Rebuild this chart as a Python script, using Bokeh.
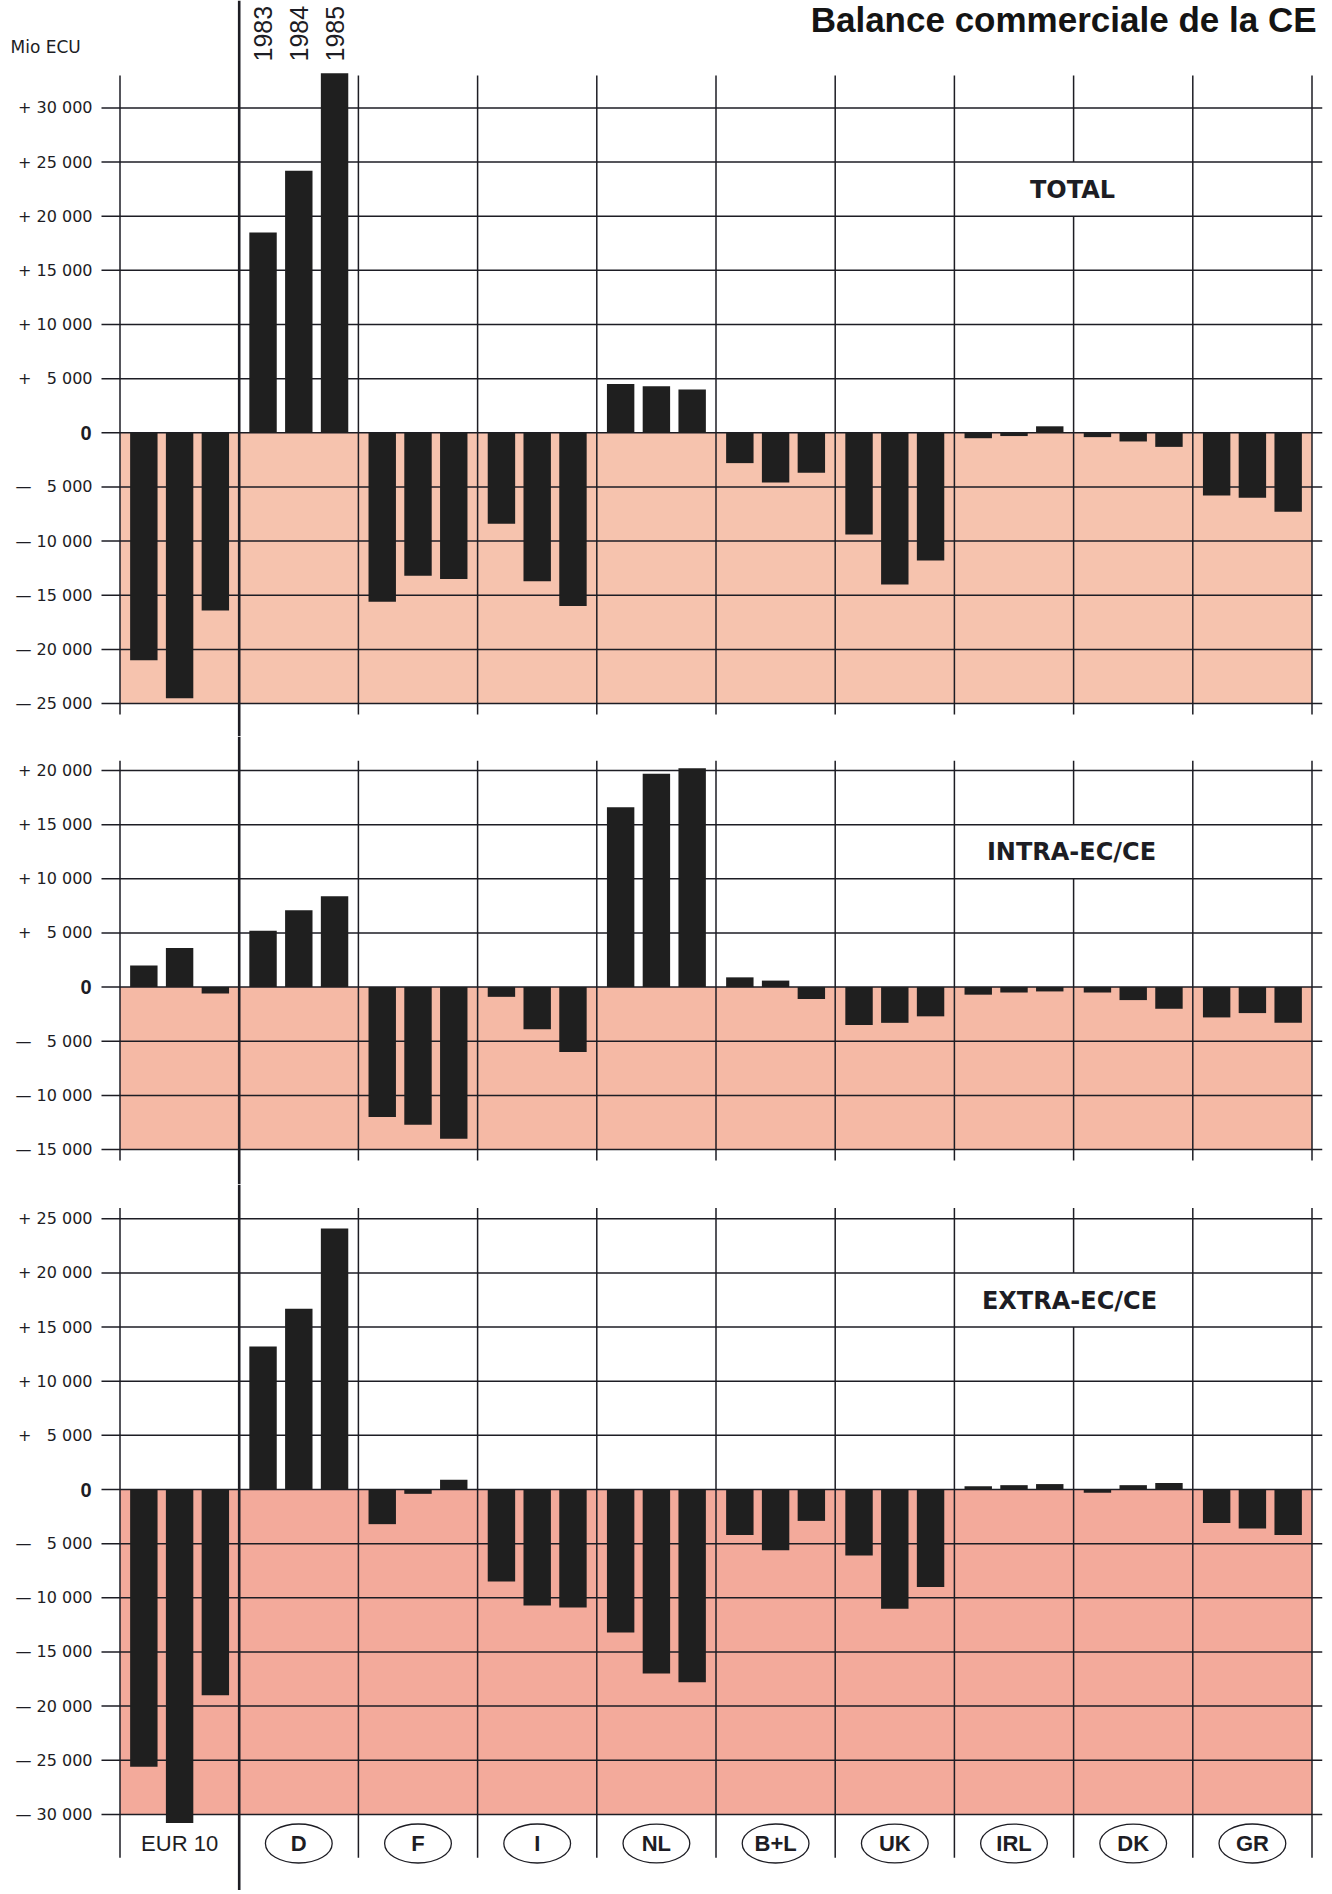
import math
from bokeh.plotting import figure
from bokeh.layouts import column
from bokeh.models import Range1d, Span
from bokeh.embed import file_html
from bokeh.resources import INLINE
from bokeh.core.properties import value

# ---------------- data (Mio ECU) ----------------
CATEGORIES = ["EUR 10", "D", "F", "I", "NL", "B+L", "UK", "IRL", "DK", "GR"]
YEARS = ["1983", "1984", "1985"]

TOTAL_1983 = [-21000, 18500, -15600, -8400, 4500, -2800, -9400, -500, -400, -5800]
TOTAL_1984 = [-24500, 24200, -13200, -13700, 4300, -4600, -14000, -300, -800, -6000]
TOTAL_1985 = [-16400, 33200, -13500, -16000, 4000, -3700, -11800, 600, -1300, -7300]

INTRA_1983 = [2000, 5200, -12000, -900, 16600, 900, -3500, -700, -500, -2800]
INTRA_1984 = [3600, 7100, -12700, -3900, 19700, 600, -3300, -500, -1200, -2400]
INTRA_1985 = [-600, 8400, -14000, -6000, 20200, -1100, -2700, -400, -2000, -3300]

EXTRA_1983 = [-25600, 13200, -3200, -8500, -13200, -4200, -6100, 300, -300, -3100]
EXTRA_1984 = [-30800, 16700, -400, -10700, -17000, -5600, -11000, 400, 400, -3600]
EXTRA_1985 = [-19000, 24100, 900, -10900, -17800, -2900, -9000, 500, 600, -4200]

TOTAL_TICKS = [-25000, -20000, -15000, -10000, -5000, 0, 5000, 10000, 15000, 20000, 25000, 30000]
INTRA_TICKS = [-15000, -10000, -5000, 0, 5000, 10000, 15000, 20000]
EXTRA_TICKS = [-30000, -25000, -20000, -15000, -10000, -5000, 0, 5000, 10000, 15000, 20000, 25000]

TITLE = "Balance commerciale de la CE"
UNIT = "Mio ECU"
PANEL_NAMES = ["TOTAL", "INTRA-EC/CE", "EXTRA-EC/CE"]

# ---------------- layout (page pixels) ----------------
W = 1326
CAT0 = 119.5          # page x of first category boundary
CATW = 119.2          # category width in px
K = 54.15 / 5000.0    # px per Mio ECU
GRID_L, FRAME_R = 101, 1322


def px2x(px):
    return (px - CAT0) / CATW


X0 = px2x(0)
X1 = px2x(FRAME_R)
GX0 = px2x(GRID_L)

INK = "#1d1d24"
BAR = "#1f1f1f"
FONT = "Liberation Sans"
TICKFONT = "DejaVu Sans"
OFFS = [-0.3, 0.0, 0.3]
BAR_W = 0.23
NCAT = len(CATEGORIES)


def tick_label(v):
    n = abs(v)
    s = f"{n:,}".replace(",", " ")
    pad = "\u2007" if n < 10000 else ""
    sign = "+ " if v > 0 else "\u2014 "
    return sign + pad + s


def make_panel(series, ticks, zero_y, top_y, bot_y, line_lo, line_hi, pink, name, name_pos, mask):
    def v(py):
        return (zero_y - py) / K

    h = bot_y - top_y
    p = figure(width=W, height=h, x_range=Range1d(X0, X1), y_range=Range1d(v(bot_y), v(top_y)),
               output_backend="svg", toolbar_location=None, x_axis_location=None,
               y_axis_location=None, min_border_left=0, min_border_right=W - FRAME_R,
               min_border_top=0, min_border_bottom=0)
    p.outline_line_color = None
    p.grid.visible = False
    p.background_fill_color = "white"
    p.border_fill_color = "white"

    # tick labels
    nz = [t for t in ticks if t != 0]
    p.text(x=[px2x(92)] * len(nz), y=nz, text=[tick_label(t) for t in nz], text_align="right",
           text_baseline="middle", text_font=value(TICKFONT), text_font_size="16px",
           text_color=INK)
    p.text(x=[px2x(91)], y=[0], text=["0"], text_align="right", text_baseline="middle",
           text_font=value(FONT), text_font_style="bold", text_font_size="20px", text_color=INK)

    # pink area below zero
    p.quad(left=[0], right=[NCAT], bottom=[min(ticks)], top=[0],
           fill_color=pink, line_color=None)

    # horizontal lines
    p.segment(x0=[GX0] * len(ticks), x1=[X1] * len(ticks), y0=ticks, y1=ticks,
              line_color=INK, line_width=1.5)
    # vertical category lines (boundary 1 is the full-height thick line)
    x0s, y0s, y1s = [], [], []
    for b in range(NCAT + 1):
        if b == 1:
            continue
        if b == 8:
            x0s += [b, b]
            y0s += [line_lo, mask[1]]
            y1s += [mask[0], line_hi]
        else:
            x0s.append(b)
            y0s.append(line_lo)
            y1s.append(line_hi)
    p.segment(x0=x0s, x1=x0s, y0=y0s, y1=y1s, line_color=INK, line_width=1.5)
    p.add_layout(Span(location=1, dimension="height", line_color=INK, line_width=2.6))

    # bars
    for off, vals in zip(OFFS, series):
        p.vbar(x=[i + 0.5 + off for i in range(NCAT)], top=vals, bottom=0,
               width=BAR_W, fill_color=BAR, line_color=None)

    # panel name
    p.text(x=[px2x(name_pos[0])], y=[v(name_pos[1])], text=[name], text_align="center",
           text_baseline="middle", text_font=value(TICKFONT), text_font_style="bold",
           text_font_size="24px", text_color=INK)
    return p, v


# ---------------- panel 1: TOTAL ----------------
p1, v1 = make_panel([TOTAL_1983, TOTAL_1984, TOTAL_1985], TOTAL_TICKS,
                    zero_y=432.3, top_y=0, bot_y=736, line_lo=-26000, line_hi=33000,
                    pink="#f6c3ae", name=PANEL_NAMES[0], name_pos=(1072, 189),
                    mask=(20000, 25000))
p1.text(x=[px2x(1316)], y=[v1(19)], text=[TITLE], text_align="right", text_baseline="middle",
        text_font=value(FONT), text_font_style="bold", text_font_size="35px",
        text_color="#141414")
p1.text(x=[px2x(10)], y=[v1(46)], text=[UNIT], text_align="left", text_baseline="middle",
        text_font=value(TICKFONT), text_font_size="17px", text_color=INK)
p1.text(x=[1.5 + o for o in OFFS], y=[v1(61)] * 3, text=YEARS, angle=math.pi / 2,
        text_align="left", text_baseline="middle", text_font=value(FONT),
        text_font_size="25px", text_color=INK)

# ---------------- panel 2: INTRA ----------------
p2, v2 = make_panel([INTRA_1983, INTRA_1984, INTRA_1985], INTRA_TICKS,
                    zero_y=986.6, top_y=736, bot_y=1184, line_lo=-16000, line_hi=20900,
                    pink="#f5b9a5", name=PANEL_NAMES[1], name_pos=(1071, 851),
                    mask=(10000, 15000))

# ---------------- panel 3: EXTRA ----------------
p3, v3 = make_panel([EXTRA_1983, EXTRA_1984, EXTRA_1985], EXTRA_TICKS,
                    zero_y=1489.0, top_y=1184, bot_y=1890, line_lo=-34000, line_hi=26000,
                    pink="#f3aa9b", name=PANEL_NAMES[2], name_pos=(1069, 1300),
                    mask=(15000, 20000))

lab_y = v3(1843)
p3.ellipse(x=[i + 0.5 for i in range(1, NCAT)], y=[lab_y] * (NCAT - 1),
           width=0.56, height=39, height_units="screen", fill_color=None,
           line_color=INK, line_width=1.3)
p3.text(x=[0.5], y=[lab_y], text=[CATEGORIES[0]], text_align="center", text_baseline="middle",
        text_font=value(FONT), text_font_size="22px", text_color=INK)
p3.text(x=[i + 0.5 for i in range(1, NCAT)], y=[lab_y] * (NCAT - 1),
        text=CATEGORIES[1:], text_align="center", text_baseline="middle",
        text_font=value(FONT), text_font_style="bold", text_font_size="22px", text_color=INK)

layout = column(p1, p2, p3, spacing=0)
open("out.html", "w").write(file_html(layout, INLINE))
